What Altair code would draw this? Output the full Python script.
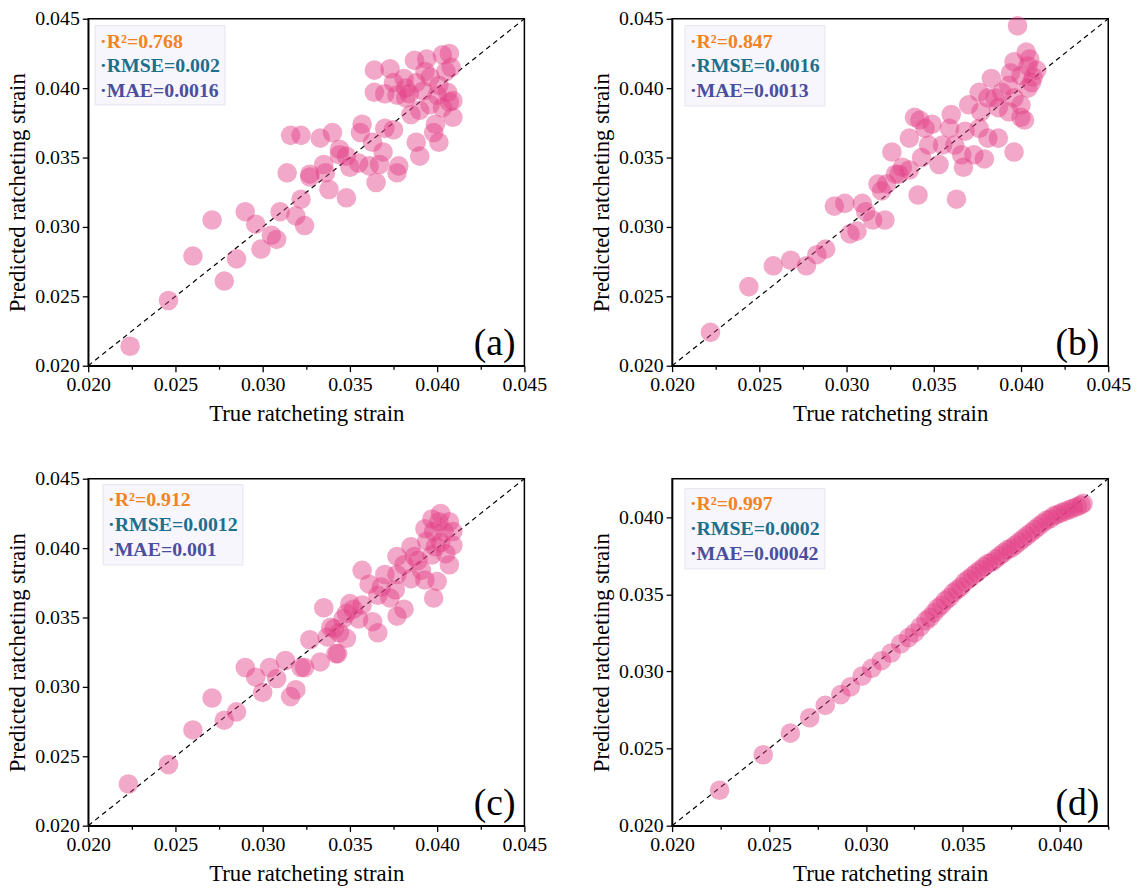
import altair as alt
import pandas as pd

# ---------------- data (true, predicted) ----------------
POINTS_A = [
    (0.0224, 0.0214), (0.0246, 0.0247), (0.0260, 0.0279), (0.0271, 0.0305), (0.0278, 0.0261),
    (0.0285, 0.0277), (0.0290, 0.0311), (0.0296, 0.0302), (0.0299, 0.0284), (0.0305, 0.0294),
    (0.0308, 0.0291), (0.0310, 0.0311), (0.0316, 0.0366), (0.0314, 0.0339), (0.0319, 0.0308),
    (0.0322, 0.0320), (0.0324, 0.0301), (0.0327, 0.0338), (0.0327, 0.0336), (0.0322, 0.0366),
    (0.0333, 0.0364), (0.0335, 0.0345), (0.0336, 0.0339), (0.0338, 0.0327), (0.0340, 0.0368),
    (0.0344, 0.0356), (0.0344, 0.0352), (0.0348, 0.0351), (0.0350, 0.0343), (0.0348, 0.0321),
    (0.0355, 0.0346), (0.0356, 0.0368), (0.0357, 0.0374), (0.0361, 0.0344), (0.0363, 0.0361),
    (0.0364, 0.0397), (0.0364, 0.0413), (0.0365, 0.0332), (0.0367, 0.0345), (0.0369, 0.0354),
    (0.0370, 0.0371), (0.0370, 0.0396), (0.0373, 0.0414), (0.0375, 0.0370), (0.0375, 0.0404),
    (0.0377, 0.0339), (0.0378, 0.0344), (0.0377, 0.0395), (0.0381, 0.0407), (0.0382, 0.0400),
    (0.0382, 0.0393), (0.0385, 0.0381), (0.0387, 0.0420), (0.0388, 0.0404), (0.0388, 0.0361),
    (0.0390, 0.0351), (0.0390, 0.0384), (0.0394, 0.0421), (0.0396, 0.0408), (0.0396, 0.0388),
    (0.0398, 0.0368), (0.0399, 0.0374), (0.0401, 0.0402), (0.0401, 0.0361), (0.0403, 0.0424),
    (0.0403, 0.0386), (0.0406, 0.0397), (0.0407, 0.0425), (0.0407, 0.0390), (0.0409, 0.0391),
    (0.0409, 0.0379), (0.0405, 0.0412), (0.0392, 0.0398), (0.0384, 0.0396), (0.0408, 0.0415),
    (0.0400, 0.0395), (0.0393, 0.0412),
]

POINTS_B = [
    (0.0222, 0.0224), (0.0244, 0.0257), (0.0258, 0.0272), (0.0268, 0.0276), (0.0277, 0.0272),
    (0.0283, 0.0280), (0.0288, 0.0284), (0.0293, 0.0315), (0.0299, 0.0317), (0.0302, 0.0295),
    (0.0306, 0.0297), (0.0309, 0.0317), (0.0311, 0.0311), (0.0315, 0.0305), (0.0322, 0.0305),
    (0.0318, 0.0331), (0.0320, 0.0326), (0.0326, 0.0354), (0.0330, 0.0338), (0.0336, 0.0341),
    (0.0336, 0.0364), (0.0341, 0.0323), (0.0342, 0.0377), (0.0339, 0.0379), (0.0345, 0.0371),
    (0.0349, 0.0374), (0.0360, 0.0381), (0.0359, 0.0371), (0.0368, 0.0369), (0.0376, 0.0371),
    (0.0381, 0.0364), (0.0387, 0.0364), (0.0396, 0.0354), (0.0347, 0.0359), (0.0355, 0.0359),
    (0.0362, 0.0359), (0.0366, 0.0352), (0.0373, 0.0352), (0.0379, 0.0349), (0.0353, 0.0345),
    (0.0367, 0.0343), (0.0343, 0.0350), (0.0332, 0.0343), (0.0328, 0.0338), (0.0363, 0.0320),
    (0.0323, 0.0331), (0.0398, 0.0445), (0.0403, 0.0426), (0.0396, 0.0419), (0.0404, 0.0416),
    (0.0406, 0.0404), (0.0400, 0.0409), (0.0394, 0.0411), (0.0383, 0.0407), (0.0376, 0.0397),
    (0.0381, 0.0393), (0.0389, 0.0397), (0.0396, 0.0393), (0.0404, 0.0400), (0.0370, 0.0388),
    (0.0377, 0.0383), (0.0387, 0.0386), (0.0400, 0.0379), (0.0402, 0.0377), (0.0407, 0.0408),
    (0.0393, 0.0402), (0.0385, 0.0393), (0.0400, 0.0388), (0.0393, 0.0383), (0.0409, 0.0413),
    (0.0405, 0.0421),
]

POINTS_C = [
    (0.0223, 0.0230), (0.0246, 0.0244), (0.0260, 0.0269), (0.0271, 0.0292), (0.0278, 0.0276),
    (0.0285, 0.0282), (0.0290, 0.0314), (0.0296, 0.0307), (0.0300, 0.0296), (0.0304, 0.0314),
    (0.0308, 0.0306), (0.0313, 0.0319), (0.0316, 0.0293), (0.0319, 0.0298), (0.0322, 0.0314),
    (0.0327, 0.0334), (0.0333, 0.0318), (0.0335, 0.0357), (0.0339, 0.0343), (0.0342, 0.0324),
    (0.0350, 0.0360), (0.0348, 0.0353), (0.0324, 0.0314), (0.0337, 0.0336), (0.0343, 0.0324),
    (0.0344, 0.0339), (0.0348, 0.0335), (0.0341, 0.0342), (0.0346, 0.0349), (0.0352, 0.0356),
    (0.0355, 0.0349), (0.0357, 0.0359), (0.0363, 0.0347), (0.0366, 0.0339), (0.0357, 0.0384),
    (0.0361, 0.0374), (0.0366, 0.0366), (0.0368, 0.0372), (0.0370, 0.0381), (0.0373, 0.0364),
    (0.0376, 0.0370), (0.0377, 0.0381), (0.0377, 0.0351), (0.0381, 0.0356), (0.0377, 0.0394),
    (0.0381, 0.0388), (0.0385, 0.0378), (0.0385, 0.0401), (0.0387, 0.0394), (0.0391, 0.0384),
    (0.0393, 0.0377), (0.0393, 0.0414), (0.0394, 0.0405), (0.0397, 0.0395), (0.0397, 0.0421),
    (0.0398, 0.0364), (0.0398, 0.0412), (0.0400, 0.0376), (0.0402, 0.0425), (0.0402, 0.0404),
    (0.0404, 0.0412), (0.0405, 0.0396), (0.0407, 0.0419), (0.0407, 0.0388), (0.0409, 0.0412),
    (0.0409, 0.0402), (0.0399, 0.0401), (0.0389, 0.0391), (0.0401, 0.0419),
]

POINTS_D = [
    (0.02245, 0.0223), (0.0247, 0.0246), (0.0261, 0.0260), (0.0271, 0.0270), (0.0279, 0.0278),
    (0.0287, 0.0285), (0.0292, 0.0290), (0.0298, 0.0297), (0.0303, 0.0302), (0.0308, 0.0307),
    (0.0313, 0.0312), (0.0318, 0.0318), (0.0322, 0.0322), (0.0325, 0.0325), (0.0328, 0.0329),
    (0.0331, 0.0333), (0.0333, 0.0335), (0.0335, 0.0338), (0.0337, 0.0341), (0.0339, 0.0343),
    (0.0341, 0.0346), (0.0343, 0.0348), (0.0345, 0.0351), (0.0347, 0.0353), (0.0349, 0.0355),
    (0.0351, 0.0358), (0.0353, 0.0360), (0.0355, 0.0362), (0.0357, 0.0364), (0.0359, 0.0366),
    (0.0361, 0.0368), (0.0363, 0.0370), (0.0365, 0.0371), (0.0367, 0.0373), (0.0369, 0.0375),
    (0.0371, 0.0377), (0.0373, 0.0379), (0.0375, 0.0380), (0.0377, 0.0382), (0.0379, 0.0384),
    (0.0381, 0.0386), (0.0383, 0.0388), (0.0385, 0.0390), (0.0387, 0.0392), (0.0389, 0.0394),
    (0.0391, 0.0396), (0.0393, 0.0398), (0.0395, 0.0399), (0.0397, 0.0401), (0.0399, 0.0402),
    (0.0401, 0.0403), (0.0403, 0.0404), (0.0405, 0.0405), (0.0407, 0.0406), (0.0409, 0.0407),
    (0.0411, 0.0408), (0.0412, 0.0409),
]

METRICS_A = ["·R²=0.768", "·RMSE=0.002", "·MAE=0.0016"]
METRICS_B = ["·R²=0.847", "·RMSE=0.0016", "·MAE=0.0013"]
METRICS_C = ["·R²=0.912", "·RMSE=0.0012", "·MAE=0.001"]
METRICS_D = ["·R²=0.997", "·RMSE=0.0002", "·MAE=0.00042"]
METRIC_COLORS = ["#F28322", "#1C6F8D", "#4A4E9C"]

TICKS = [0.020, 0.0225, 0.025, 0.0275, 0.030, 0.0325, 0.035, 0.0375, 0.040, 0.0425, 0.045]
DOMAIN_MAX_ABC = 0.045
DOMAIN_MAX_D = 0.0425

FONT = "Liberation Serif"
W, H = 440, 350
POINT_COLOR = "#E23E84"

MAJOR_TEST = "round(datum.value * 10000) % 50 == 0"


def make_axis(title, ticks):
    return alt.Axis(
        values=ticks,
        title=title,
        labelExpr=MAJOR_TEST + " ? format(datum.value, '.3f') : ''",
        tickSize={"condition": {"test": MAJOR_TEST, "value": 6}, "value": 3.5},
        labelFlush=False,
        labelOverlap=False,
        grid=False,
    )


def panel(points, dmax, letter, metrics, box):
    df = pd.DataFrame(points, columns=["true", "pred"])
    ticks = [t for t in TICKS if t <= dmax + 1e-9]
    scale = alt.Scale(domain=[0.02, dmax], nice=False, zero=False)
    ax_x = make_axis("True ratcheting strain", ticks)
    ax_y = make_axis("Predicted ratcheting strain", ticks)

    pts = alt.Chart(df).mark_circle(size=390, opacity=0.45, color=POINT_COLOR).encode(
        x=alt.X("true:Q", scale=scale, axis=ax_x),
        y=alt.Y("pred:Q", scale=scale, axis=ax_y),
    )
    diag = alt.Chart(pd.DataFrame({"v": [0.02, dmax]})).mark_line(
        color="black", strokeDash=[5, 4], strokeWidth=1.2
    ).encode(x=alt.X("v:Q", scale=scale), y=alt.Y("v:Q", scale=scale))

    bx, by, bw, bh = box
    rect = alt.Chart(pd.DataFrame({"a": [0]})).mark_rect(
        fill="#F6F6FC", stroke="#E4E4EE", strokeWidth=1
    ).encode(x=alt.value(bx), x2=alt.value(bx + bw), y=alt.value(by), y2=alt.value(by + bh))

    texts = []
    for i, (m, c) in enumerate(zip(metrics, METRIC_COLORS)):
        texts.append(
            alt.Chart(pd.DataFrame({"t": [m]})).mark_text(
                font=FONT, fontSize=20, fontWeight="bold", color=c, align="left", baseline="middle"
            ).encode(text="t:N", x=alt.value(bx + 5), y=alt.value(by + 16 + i * 25))
        )

    lab = alt.Chart(pd.DataFrame({"t": [letter]})).mark_text(
        font=FONT, fontSize=38, color="black", align="right", baseline="alphabetic"
    ).encode(text="t:N", x=alt.value(W - 9), y=alt.value(H - 11))

    return alt.layer(diag, pts, rect, *texts, lab).properties(width=W, height=H)


pa = panel(POINTS_A, DOMAIN_MAX_ABC, "(a)", METRICS_A, (7, 7, 131, 80))
pb = panel(POINTS_B, DOMAIN_MAX_ABC, "(b)", METRICS_B, (13, 7, 141, 81))
pc = panel(POINTS_C, DOMAIN_MAX_ABC, "(c)", METRICS_C, (15, 6, 141, 81))
pd_ = panel(POINTS_D, DOMAIN_MAX_D, "(d)", METRICS_D, (13, 10, 141, 81))

chart = alt.concat(
    pa, pb, pc, pd_, columns=2, spacing={"row": 114, "column": 149}, bounds="flush"
).properties(
    padding={"left": 6, "top": 4, "right": 5, "bottom": 5}
).configure_view(
    stroke="black", strokeWidth=1.5
).configure_axis(
    domainColor="black", domainWidth=1.5, tickColor="black", tickWidth=1.3,
    labelFont=FONT, labelFontSize=20, labelColor="black", labelPadding=3,
    titleFont=FONT, titleFontSize=23, titleColor="black", titleFontWeight="normal",
).configure_axisX(
    titlePadding=8,
).configure_axisY(
    titlePadding=5,
)

chart.save("out.html", embed_options={"renderer": "svg", "actions": False})
